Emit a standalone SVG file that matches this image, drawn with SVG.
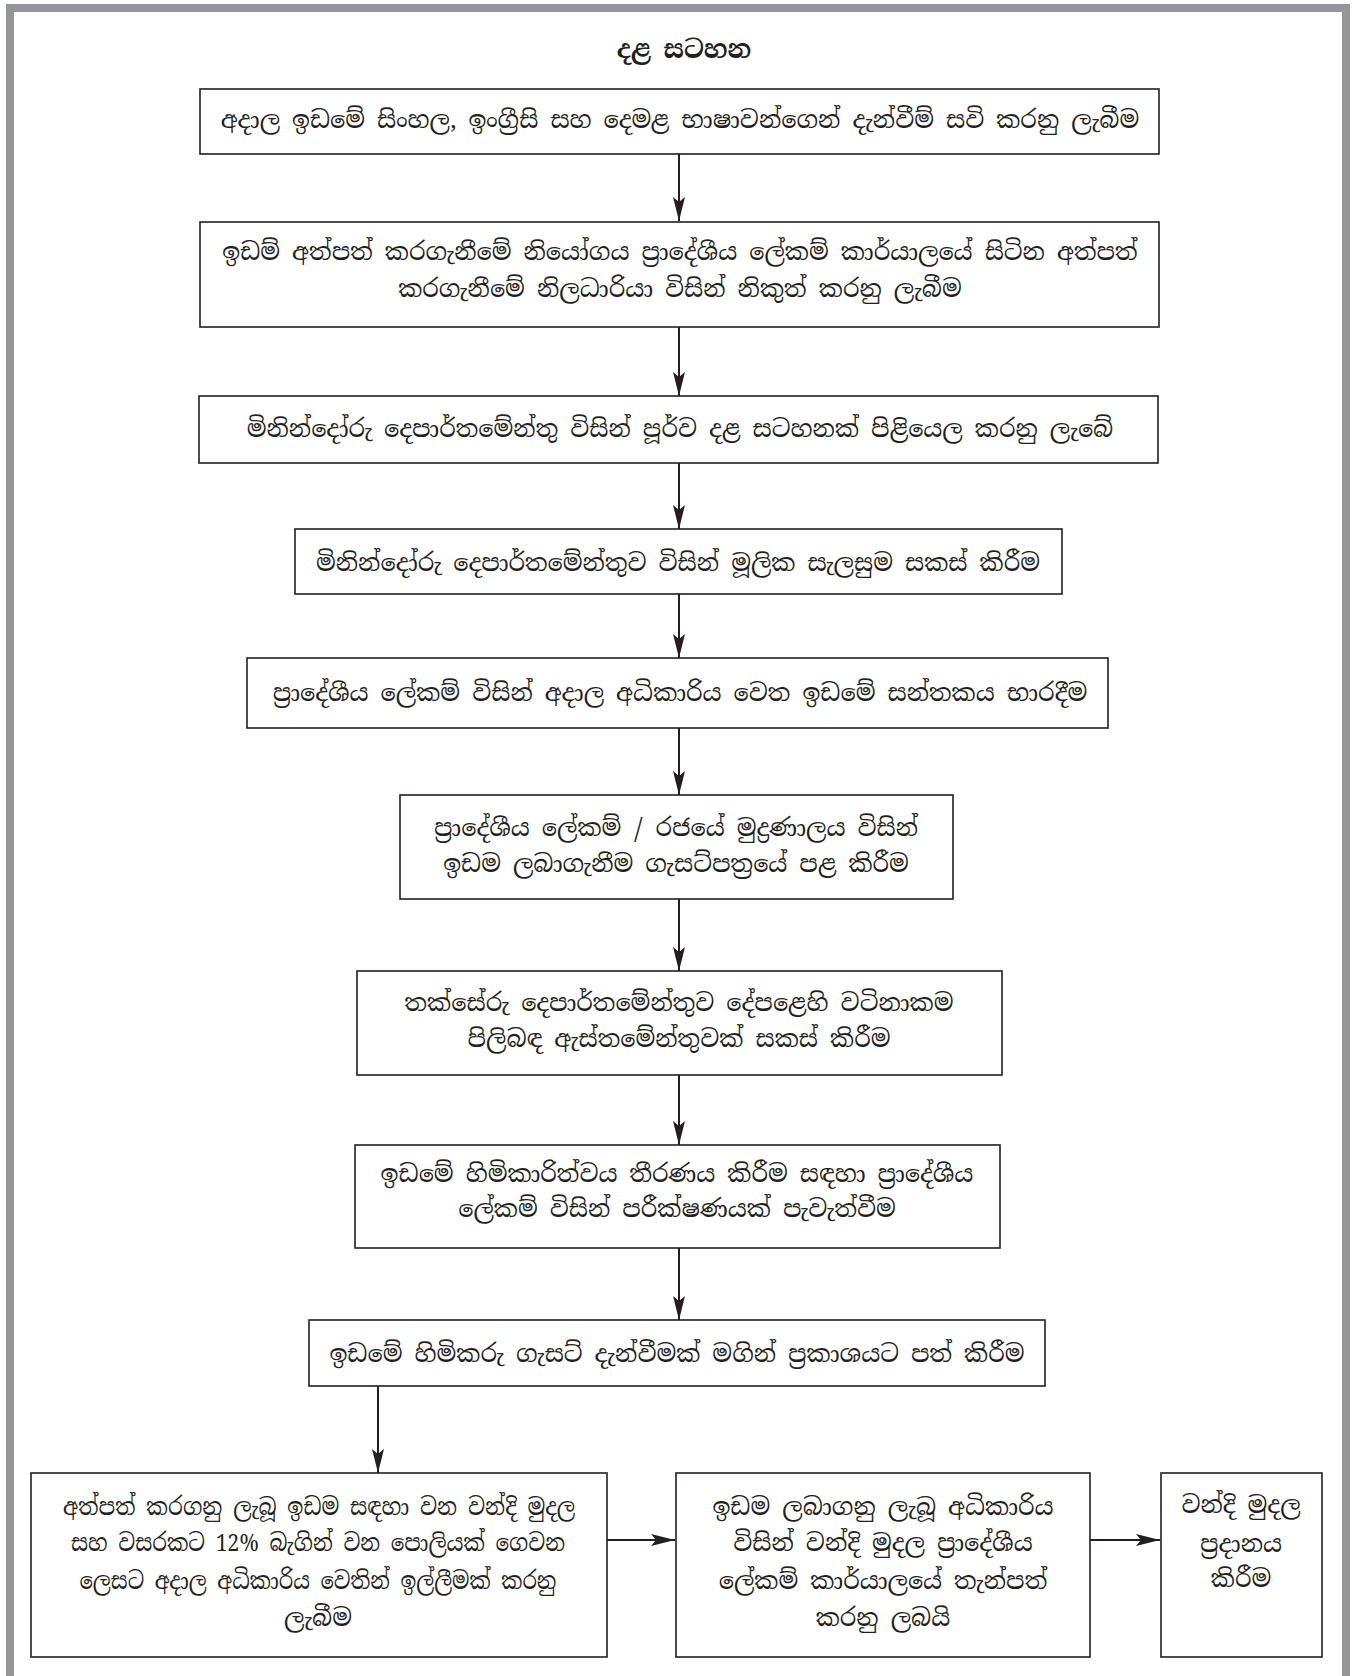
<svg xmlns="http://www.w3.org/2000/svg" width="1352" height="1676" viewBox="0 0 1352 1676">
<defs>
<style>
.box{fill:#fff;stroke:#231f20;stroke-width:1.6}
.t{font-family:'Noto Serif Sinhala','Noto Sans Sinhala','Iskoola Pota','Noto Sans',sans-serif;font-size:24px;fill:#231f20;text-anchor:middle;dominant-baseline:central}
.title{font-weight:bold;font-size:25px}
.c{stroke:#231f20;stroke-width:2;fill:none;marker-end:url(#ah)}
</style>
<marker id="ah" markerUnits="userSpaceOnUse" viewBox="0 0 24 12" refX="24" refY="6" markerWidth="24" markerHeight="12" orient="auto">
<path d="M0,0 L24,6 L0,12 L5,6 z" fill="#231f20"/>
</marker>
</defs>
<rect width="1352" height="1676" fill="#fff"/>
<path d="M10,1676 V8 H1346 V1676" fill="none" stroke="#939598" stroke-width="8"/>
<text class="t title" x="684" y="49">දළ සටහන</text>
<g id="connectors">
<path class="c" d="M679,154 V221"/>
<path class="c" d="M679,327 V396"/>
<path class="c" d="M679,463 V529"/>
<path class="c" d="M679,594 V658"/>
<path class="c" d="M679,728 V795"/>
<path class="c" d="M679,899 V971"/>
<path class="c" d="M679,1075 V1145"/>
<path class="c" d="M679,1248 V1320"/>
<path class="c" d="M378,1386 V1473"/>
<path class="c" d="M607,1540 H675"/>
<path class="c" d="M1090,1540 H1160"/>
</g>
<g id="n1"><rect class="box" x="200" y="89" width="959" height="65"/>
<text class="t" x="680" y="119">අදාල ඉඩමේ සිංහල, ඉංග්‍රීසි සහ දෙමළ භාෂාවන්ගෙන් දැන්වීම් සවි කරනු ලැබීම</text></g>
<g id="n2"><rect class="box" x="200" y="222" width="959" height="105"/>
<text class="t" x="680" y="251">ඉඩම් අත්පත් කරගැනීමේ නියෝගය ප්‍රාදේශීය ලේකම් කාර්යාලයේ සිටින අත්පත්</text>
<text class="t" x="680" y="288">කරගැනීමේ නිලධාරියා විසින් නිකුත් කරනු ලැබීම</text></g>
<g id="n3"><rect class="box" x="199" y="396" width="959" height="67"/>
<text class="t" x="680" y="428">මිනින්දෝරු දෙපාර්තමේන්තු විසින් පූර්ව දළ සටහනක් පිළියෙල කරනු ලැබේ</text></g>
<g id="n4"><rect class="box" x="295" y="529" width="767" height="65"/>
<text class="t" x="678" y="562">මිනින්දෝරු දෙපාර්තමේන්තුව විසින් මූලික සැලසුම සකස් කිරීම</text></g>
<g id="n5"><rect class="box" x="247" y="658" width="861" height="70"/>
<text class="t" x="680" y="692">ප්‍රාදේශීය ලේකම් විසින් අදාල අධිකාරිය වෙත ඉඩමේ සන්තකය භාරදීම</text></g>
<g id="n6"><rect class="box" x="400" y="795" width="553" height="104"/>
<text class="t" x="676" y="827">ප්‍රාදේශීය ලේකම් / රජයේ මුද්‍රණාලය විසින්</text>
<text class="t" x="676" y="863">ඉඩම ලබාගැනීම ගැසට්පත්‍රයේ පළ කිරීම</text></g>
<g id="n7"><rect class="box" x="357" y="971" width="645" height="104"/>
<text class="t" x="679" y="1002">තක්සේරු දෙපාර්තමේන්තුව දේපළෙහි වටිනාකම</text>
<text class="t" x="679" y="1038">පිලිබඳ ඇස්තමේන්තුවක් සකස් කිරීම</text></g>
<g id="n8"><rect class="box" x="355" y="1145" width="645" height="103"/>
<text class="t" x="677" y="1173">ඉඩමේ හිමිකාරිත්වය තීරණය කිරීම සඳහා ප්‍රාදේශීය</text>
<text class="t" x="677" y="1208">ලේකම් විසින් පරීක්ෂණයක් පැවැත්වීම</text></g>
<g id="n9"><rect class="box" x="309" y="1320" width="736" height="66"/>
<text class="t" x="677" y="1353">ඉඩමේ හිමිකරු ගැසට් දැන්වීමක් මගින් ප්‍රකාශයට පත් කිරීම</text></g>
<g id="n10"><rect class="box" x="31" y="1473" width="576" height="184"/>
<text class="t" x="319" y="1506" textLength="512" lengthAdjust="spacingAndGlyphs">අත්පත් කරගනු ලැබූ ඉඩම සඳහා වන වන්දි මුදල</text>
<text class="t" x="318" y="1542" textLength="494" lengthAdjust="spacingAndGlyphs">සහ වසරකට 12% බැගින් වන පොලියක් ගෙවන</text>
<text class="t" x="318" y="1580" textLength="477" lengthAdjust="spacingAndGlyphs">ලෙසට අදාල අධිකාරිය වෙතින් ඉල්ලීමක් කරනු</text>
<text class="t" x="318" y="1617">ලැබීම</text></g>
<g id="n11"><rect class="box" x="676" y="1473" width="414" height="184"/>
<text class="t" x="883" y="1506">ඉඩම ලබාගනු ලැබූ අධිකාරිය</text>
<text class="t" x="883" y="1542">විසින් වන්දි මුදල ප්‍රාදේශීය</text>
<text class="t" x="883" y="1580">ලේකම් කාර්යාලයේ තැන්පත්</text>
<text class="t" x="883" y="1617">කරනු ලබයි</text></g>
<g id="n12"><rect class="box" x="1161" y="1473" width="161" height="184"/>
<text class="t" x="1241" y="1504">වන්දි මුදල</text>
<text class="t" x="1241" y="1543">ප්‍රදානය</text>
<text class="t" x="1241" y="1578">කිරීම</text></g>
</svg>
